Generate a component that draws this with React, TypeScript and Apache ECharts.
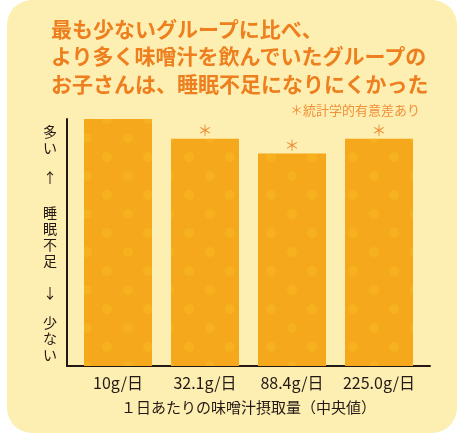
import React, { useEffect, useRef } from "react";
import * as echarts from "echarts";

const categories = ["10g/日", "32.1g/日", "88.4g/日", "225.0g/日"];
const values = [100, 92, 86, 92];
const significant = [false, true, true, true];
const titleLines = [
  "最も少ないグループに比べ、",
  "より多く味噌汁を飲んでいたグループの",
  "お子さんは、睡眠不足になりにくかった",
];
const noteText = "＊統計学的有意差あり";
const xAxisName = "１日あたりの味噌汁摂取量（中央値）";
const yLabelWords = ["多い", "↑", "睡眠不足", "↓", "少ない"];
const yLabelCenters = [139, 177, 235.5, 292, 337.5];

const FONT = "'Noto Sans CJK JP', 'Noto Sans', sans-serif";
const ORANGE = "#ee7f1e";
const DARK = "#231815";
const CHAR_STEP = 16;

export default function App() {
  const ref = useRef<HTMLDivElement>(null);
  useEffect(() => {
    if (!ref.current) return;
    const chart = echarts.init(ref.current, null, { renderer: "svg" });
    const yTexts: any[] = [];
    yLabelWords.forEach((w, i) => {
      const chars = Array.from(w);
      chars.forEach((ch, j) => {
        yTexts.push({
          type: "text",
          x: 50,
          y: yLabelCenters[i] + (j - (chars.length - 1) / 2) * CHAR_STEP,
          style: {
            text: ch,
            align: "center",
            verticalAlign: "middle",
            fontFamily: FONT,
            fontSize: 14,
            fill: DARK,
          },
        });
      });
    });
    chart.setOption({
      animation: false,
      textStyle: { fontFamily: FONT },
      title: [
        {
          text: titleLines.join("\n"),
          left: 46,
          top: 9,
          textStyle: { fontFamily: FONT, fontSize: 21, fontWeight: "bold", lineHeight: 27.5, color: ORANGE },
        },
        {
          text: noteText,
          right: 33,
          top: 98,
          textStyle: { fontFamily: FONT, fontSize: 13, fontWeight: "normal", color: "#f0913a" },
        },
      ],
      graphic: [
        {
          type: "rect",
          z: -10,
          silent: true,
          shape: { x: 7, y: 0, width: 450, height: 433, r: 25 },
          style: { fill: "#fdeeb1" },
        },
        ...yTexts,
      ],
      grid: [
        { left: 67, right: 28, top: 119, bottom: 74 },
        { left: 74.5, right: 35.5, top: 119, bottom: 74 },
      ],
      xAxis: [
        {
          type: "value",
          gridIndex: 0,
          min: 0,
          max: 1,
          axisLine: { show: true, lineStyle: { color: DARK, width: 2 } },
          axisTick: { show: false },
          axisLabel: { show: false },
          splitLine: { show: false },
        },
        {
          type: "category",
          gridIndex: 1,
          data: categories,
          boundaryGap: true,
          axisLine: { show: false },
          axisTick: { show: false },
          axisLabel: { color: DARK, fontSize: 16, margin: 8, interval: 0, fontFamily: FONT },
          name: xAxisName,
          nameLocation: "middle",
          nameGap: 33,
          nameTextStyle: { color: DARK, fontSize: 15, fontFamily: FONT },
        },
      ],
      yAxis: [
        {
          type: "value",
          gridIndex: 0,
          min: 0,
          max: 100,
          axisLine: { show: true, lineStyle: { color: DARK, width: 2 } },
          axisTick: { show: false },
          axisLabel: { show: false },
          splitLine: { show: false },
        },
        {
          type: "value",
          gridIndex: 1,
          min: 0,
          max: 100,
          show: false,
        },
      ],
      series: [
        {
          type: "bar",
          xAxisIndex: 1,
          yAxisIndex: 1,
          barWidth: 68,
          data: values.map((v, i) => ({
            value: v,
            label: {
              show: significant[i],
              position: "top",
              distance: 2,
              formatter: "＊",
              color: "#f0913a",
              fontSize: 15,
              fontFamily: FONT,
            },
          })),
          itemStyle: {
            color: "#f5a81b",
            decal: {
              symbol: "circle",
              symbolSize: 1,
              color: "rgba(252, 200, 40, 0.3)",
              dashArrayX: [[10, 31], [0, 20, 10, 11]],
              dashArrayY: [10, 9],
            },
          },
        },
      ],
    });
    return () => chart.dispose();
  }, []);
  return (
    <div
      ref={ref}
      style={{ position: "fixed", left: 0, top: 0, width: 458, height: 440 }}
    />
  );
}
